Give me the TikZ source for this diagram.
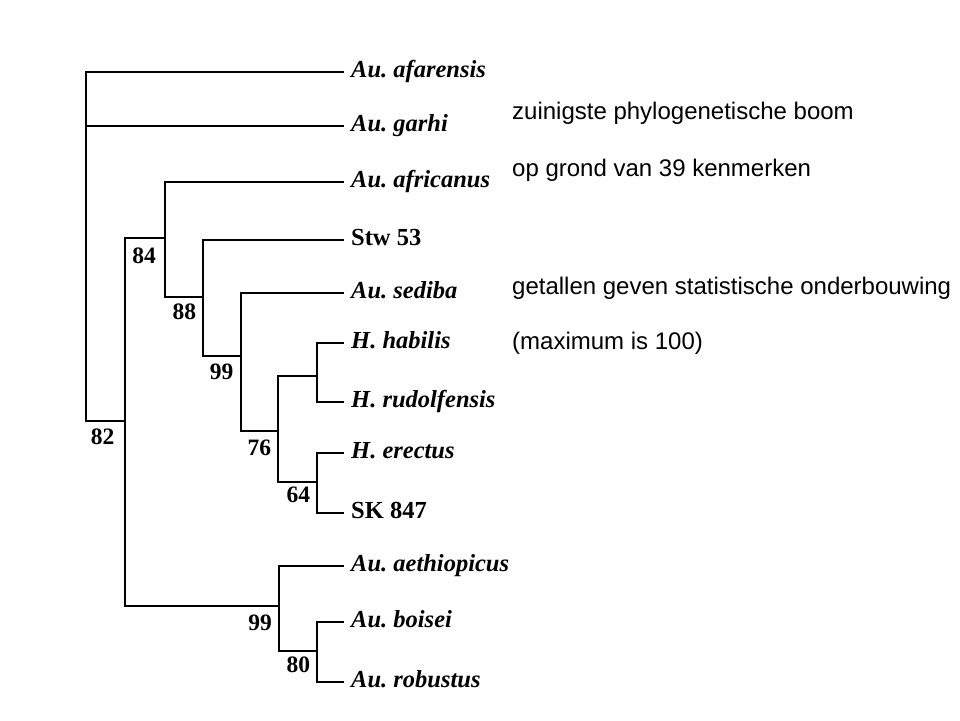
\documentclass[tikz,border=0pt]{standalone}
\usepackage{fontspec}
\setmainfont{Liberation Serif}
\newfontfamily\notefont{Liberation Sans}
\frenchspacing
\begin{document}
\begin{tikzpicture}[x=1pt,y=-1pt,
  branch/.style={line width=2pt, line cap=rect},
  leaf/.style={anchor=base west, inner sep=0pt, font=\fontsize{24.5}{28}\selectfont\bfseries\itshape},
  leafup/.style={anchor=base west, inner sep=0pt, font=\fontsize{24.5}{28}\selectfont\bfseries},
  support/.style={anchor=center, inner sep=0pt, font=\fontsize{23.5}{27}\selectfont\bfseries},
  note/.style={anchor=base west, inner sep=0pt, font=\notefont\fontsize{24}{28}\selectfont}]
\useasboundingbox (0,0) rectangle (960,720);
\fill[white] (0,0) rectangle (960,720);

% leaf tips
\coordinate (tafa) at (343,72);
\coordinate (tgar) at (343,126);
\coordinate (tafr) at (343,182);
\coordinate (tstw) at (343,240);
\coordinate (tsed) at (343,293);
\coordinate (thab) at (343,343);
\coordinate (trud) at (343,402);
\coordinate (tere) at (343,453);
\coordinate (tsk)  at (343,513);
\coordinate (taet) at (343,566);
\coordinate (tboi) at (343,622);
\coordinate (trob) at (343,682);

% leaf labels
\node[leaf]   (lafa) at (351,77)  {Au. afarensis};
\node[leaf]   (lgar) at (351,131) {Au. garhi};
\node[leaf]   (lafr) at (351,187) {Au. africanus};
\node[leafup] (lstw) at (351,245) {Stw 53};
\node[leaf]   (lsed) at (351,298) {Au. sediba};
\node[leaf]   (lhab) at (351,348) {H. habilis};
\node[leaf]   (lrud) at (351,407) {H. rudolfensis};
\node[leaf]   (lere) at (351,458) {H. erectus};
\node[leafup] (lsk)  at (351,518) {SK 847};
\node[leaf]   (laet) at (351,571) {Au. aethiopicus};
\node[leaf]   (lboi) at (351,627) {Au. boisei};
\node[leaf]   (lrob) at (351,687) {Au. robustus};

% internal nodes (at the point where the parent branch attaches)
\coordinate (n82) at (86,421);
\coordinate (n84) at (125,421);
\coordinate (nA)  at (165,238);
\coordinate (nB)  at (203,297);
\coordinate (nC)  at (241,356);
\coordinate (nD)  at (278,431);
\coordinate (nE)  at (317,376);
\coordinate (nF)  at (317,482);
\coordinate (nR)  at (279,606);
\coordinate (nG)  at (317,651);

% branches
\draw[branch] (tafa) -| (n82);
\draw[branch] (tgar) -| (n82);
\draw[branch] (n84) -- (n82);
\draw[branch] (nA) -| (n84);
\draw[branch] (nR) -| (n84);
\draw[branch] (tafr) -| (nA);
\draw[branch] (nB) -| (nA);
\draw[branch] (tstw) -| (nB);
\draw[branch] (nC) -| (nB);
\draw[branch] (tsed) -| (nC);
\draw[branch] (nD) -| (nC);
\draw[branch] (nE) -| (nD);
\draw[branch] (nF) -| (nD);
\draw[branch] (thab) -| (nE);
\draw[branch] (trud) -| (nE);
\draw[branch] (tere) -| (nF);
\draw[branch] (tsk) -| (nF);
\draw[branch] (taet) -| (nR);
\draw[branch] (nG) -| (nR);
\draw[branch] (tboi) -| (nG);
\draw[branch] (trob) -| (nG);

% support values
\node[support] (s82) at (102.7,436.7) {82};
\node[support] (s84) at (144,256) {84};
\node[support] (s88) at (184.3,311.7) {88};
\node[support] (s99a) at (221.7,371.7) {99};
\node[support] (s76) at (259.3,448.3) {76};
\node[support] (s64) at (298.3,495) {64};
\node[support] (s99b) at (260,623.3) {99};
\node[support] (s80) at (298.3,665) {80};

% notes
\node[note] (c1) at (512,119.3) {zuinigste phylogenetische boom};
\node[note] (c2) at (512,176) {op grond van 39 kenmerken};
\node[note] (c3) at (512,294) {getallen geven statistische onderbouwing};
\node[note] (c4) at (512,349.3) {(maximum is 100)};
\end{tikzpicture}
\end{document}
